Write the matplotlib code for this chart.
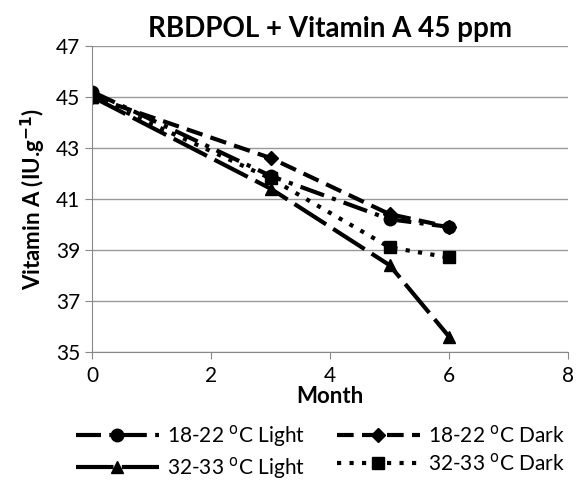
import matplotlib
matplotlib.use("Agg")
import matplotlib.pyplot as plt

plt.rcParams['font.family'] = ['Lato', 'DejaVu Sans']

months = [0, 3, 5, 6]
light_18 = [45.2, 41.9, 40.2, 39.9]
dark_18 = [45.0, 42.6, 40.4, 39.9]
light_32 = [45.0, 41.4, 38.4, 35.6]
dark_32 = [45.0, 41.8, 39.1, 38.7]

labels = ['18-22 $^{\\mathrm{o}}$C Light', '18-22 $^{\\mathrm{o}}$C Dark',
          '32-33 $^{\\mathrm{o}}$C Light', '32-33 $^{\\mathrm{o}}$C Dark']

fig = plt.figure(figsize=(5.76, 4.82), dpi=100)
ax = fig.add_axes([0.16, 0.27, 0.826, 0.635])

lw = 3
h1, = ax.plot(months, light_18, color='black', lw=lw, marker='o', ms=9,
              dashes=(6, 2, 1, 2), label=labels[0])
h2, = ax.plot(months, dark_18, color='black', lw=lw, marker='D', ms=7,
              dashes=(4, 2), label=labels[1])
h3, = ax.plot(months, light_32, color='black', lw=lw, marker='^', ms=9,
              dashes=(9, 2), label=labels[2])
h4, = ax.plot(months, dark_32, color='black', lw=lw, marker='s', ms=8,
              dashes=(1, 2), label=labels[3])

ax.set_xlim(0, 8)
ax.set_ylim(35, 47)
ax.set_xticks([0, 2, 4, 6, 8])
ax.set_yticks([35, 37, 39, 41, 43, 45, 47])
ax.tick_params(labelsize=15, color='#888888', length=5)
ax.tick_params(axis='x', pad=5)
ax.grid(axis='y', color='#999999', lw=1)
ax.set_axisbelow(True)
for s in ['top', 'right']:
    ax.spines[s].set_visible(False)
for s in ['left', 'bottom']:
    ax.spines[s].set_color('#888888')

ax.set_title('RBDPOL + Vitamin A 45 ppm', fontsize=20, fontweight='bold', pad=6)
ax.set_xlabel('Month', fontsize=16, fontweight='bold', labelpad=0)
ax.set_ylabel('Vitamin A (IU.g$^{\\mathbf{-1}}$)', fontsize=16, fontweight='bold',
              labelpad=6)

ax.legend([h1, h3, h2, h4], [labels[0], labels[2], labels[1], labels[3]],
          loc='upper center', bbox_to_anchor=(0.48, -0.17), ncol=2, frameon=False,
          fontsize=15, handlelength=4, handletextpad=0.4, columnspacing=1.5,
          labelspacing=0.3)

fig.savefig('out.png', dpi=100)
